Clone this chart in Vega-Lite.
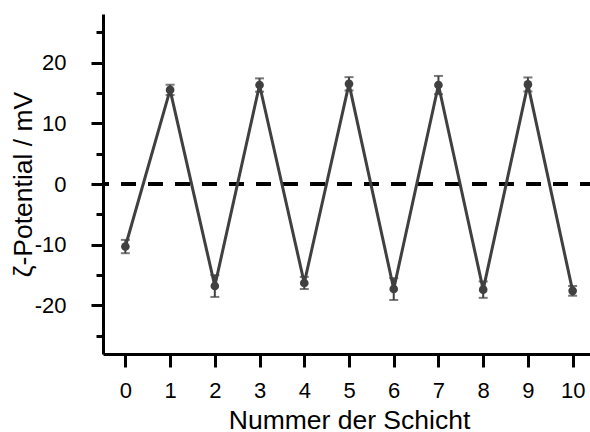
{
  "$schema": "https://vega.github.io/schema/vega-lite/v6.json",
  "autosize": "none",
  "padding": {"left": 103, "top": 14, "right": 0, "bottom": 78},
  "width": 492,
  "height": 340,
  "background": "white",
  "config": {
    "font": "Liberation Sans",
    "view": {"stroke": null},
    "axis": {
      "domainColor": "black",
      "domainWidth": 3,
      "tickColor": "black",
      "tickWidth": 3,
      "labelColor": "black",
      "titleColor": "black",
      "labelFont": "Liberation Sans",
      "titleFont": "Liberation Sans",
      "labelFontSize": 22,
      "titleFontSize": 26.5,
      "titleFontWeight": "normal",
      "grid": false
    }
  },
  "data": {
    "values": [
      {"layer": 0, "zeta": -10.3, "err": 1.1},
      {"layer": 1, "zeta": 15.5, "err": 0.85},
      {"layer": 2, "zeta": -16.8, "err": 1.8},
      {"layer": 3, "zeta": 16.3, "err": 1.1},
      {"layer": 4, "zeta": -16.3, "err": 1.0},
      {"layer": 5, "zeta": 16.5, "err": 1.1},
      {"layer": 6, "zeta": -17.3, "err": 1.8},
      {"layer": 7, "zeta": 16.3, "err": 1.5},
      {"layer": 8, "zeta": -17.4, "err": 1.35},
      {"layer": 9, "zeta": 16.4, "err": 1.15},
      {"layer": 10, "zeta": -17.6, "err": 0.8}
    ]
  },
  "resolve": {"axis": {"x": "independent", "y": "independent"}},
  "layer": [
    {
      "mark": {"type": "rule", "color": "black", "strokeWidth": 3, "strokeDash": [15, 12]},
      "encoding": {"y": {"datum": 0, "type": "quantitative", "axis": null}}
    },
    {
      "mark": {"type": "line", "color": "#404040", "strokeWidth": 3},
      "encoding": {
        "x": {
          "field": "layer",
          "type": "quantitative",
          "scale": {"domain": [-0.5, 10.5], "nice": false, "zero": false},
          "axis": {
            "values": [0, 1, 2, 3, 4, 5, 6, 7, 8, 9, 10],
            "tickSize": 13,
            "labelPadding": 13,
            "labelFlush": false,
            "title": "Nummer der Schicht",
            "titlePadding": 6
          }
        },
        "y": {
          "field": "zeta",
          "type": "quantitative",
          "scale": {"domain": [-28, 28], "nice": false, "zero": false},
          "axis": {
            "values": [-25, -20, -15, -10, -5, 0, 5, 10, 15, 20, 25],
            "tickSize": {"condition": {"test": "abs(datum.value) % 10 < 1", "value": 12}, "value": 7},
            "labelExpr": "abs(datum.value) % 10 < 1 ? (datum.value < 0 ? '-' + abs(datum.value) : '' + datum.value) : ''",
            "labelPadding": 25,
            "labelFlush": false,
            "title": "ζ-Potential / mV",
            "titlePadding": -3
          }
        }
      }
    },
    {
      "mark": {
        "type": "errorbar",
        "color": "#404040",
        "thickness": 2,
        "ticks": {"size": 9, "thickness": 2, "color": "#404040"}
      },
      "encoding": {
        "x": {"field": "layer", "type": "quantitative", "axis": null},
        "y": {"field": "zeta", "type": "quantitative", "axis": null},
        "yError": {"field": "err"}
      }
    },
    {
      "mark": {"type": "circle", "color": "#404040", "size": 75, "opacity": 1},
      "encoding": {
        "x": {"field": "layer", "type": "quantitative", "axis": null},
        "y": {"field": "zeta", "type": "quantitative", "axis": null}
      }
    }
  ]
}
